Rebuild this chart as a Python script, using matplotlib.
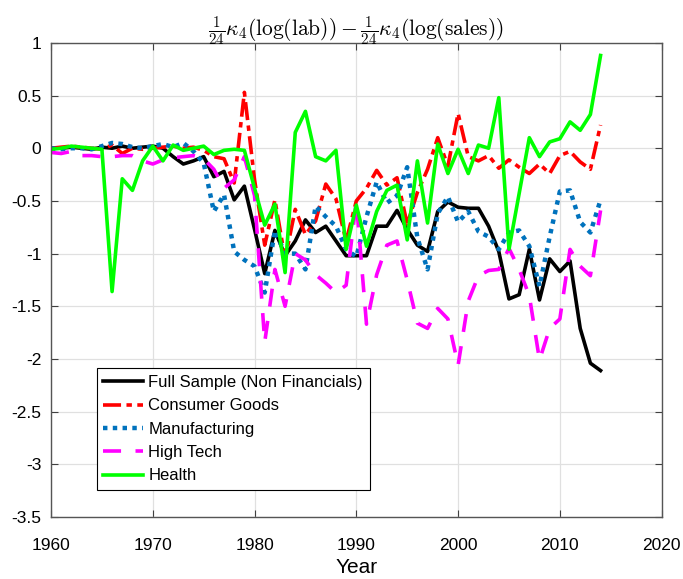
import numpy as np
import matplotlib
matplotlib.use("Agg")
import matplotlib.pyplot as plt

plt.rcParams['font.family'] = ['Liberation Sans', 'DejaVu Sans']
plt.rcParams['mathtext.fontset'] = 'cm'

years = list(range(1960, 2015))

full_sample = [0.0, 0.0, 0.01, 0.0, -0.01, 0.01, 0.0, 0.02, 0.0, 0.01,
               0.02, 0.0, -0.08, -0.15, -0.12, -0.08, -0.27, -0.22, -0.49, -0.36,
               -0.77, -1.19, -0.78, -1.02, -0.88, -0.68, -0.80, -0.74, -0.88, -1.02,
               -1.02, -1.02, -0.74, -0.74, -0.59, -0.77, -0.92, -0.98, -0.60, -0.51,
               -0.56, -0.57, -0.57, -0.74, -0.98, -1.43, -1.39, -0.96, -1.44, -1.05,
               -1.17, -1.07, -1.71, -2.04, -2.11]
consumer = [0.0, 0.01, 0.02, 0.01, 0.0, -0.01, 0.03, -0.05, 0.0, -0.01,
            0.0, 0.01, 0.02, 0.0, 0.01, -0.02, -0.08, -0.10, -0.33, 0.53,
            -0.30, -0.92, -0.49, -1.05, -0.58, -0.82, -0.69, -0.34, -0.48, -0.88,
            -0.50, -0.38, -0.21, -0.35, -0.28, -0.72, -0.42, -0.20, 0.10, -0.17,
            0.33, -0.08, -0.12, -0.07, -0.19, -0.11, -0.18, -0.24, -0.15, -0.24,
            -0.07, -0.03, -0.13, -0.20, 0.22]
manufacturing = [0.0, -0.01, 0.0, 0.0, -0.01, 0.02, 0.05, 0.04, 0.01, 0.0,
                 0.02, 0.04, 0.01, 0.05, -0.03, -0.14, -0.60, -0.44, -0.98, -1.06,
                 -1.12, -1.37, -0.78, -1.00, -1.00, -1.15, -0.55, -0.65, -0.74, -0.96,
                 -1.03, -0.65, -0.32, -0.52, -0.45, -0.18, -0.85, -1.15, -0.62, -0.46,
                 -0.70, -0.60, -0.79, -0.84, -0.96, -0.80, -0.78, -0.93, -1.31, -0.84,
                 -0.41, -0.40, -0.70, -0.80, -0.49]
high_tech = [-0.04, -0.05, -0.03, -0.07, -0.07, -0.08, -0.08, -0.07, -0.07, -0.12,
             -0.15, -0.11, -0.09, -0.08, -0.07, -0.10, -0.20, -0.38, -0.30, -0.08,
             -0.45, -1.84, -1.15, -1.50, -1.00, -1.06, -1.20, -1.28, -1.37, -1.30,
             -0.50, -1.67, -1.20, -0.92, -0.88, -1.25, -1.66, -1.71, -1.52, -1.62,
             -2.06, -1.45, -1.21, -1.16, -1.15, -0.95, -1.15, -1.40, -2.01, -1.71,
             -1.62, -0.96, -1.12, -1.21, -0.59]
health = [-0.01, 0.0, 0.02, 0.01, 0.0, -0.01, -1.36, -0.29, -0.40, -0.12,
          0.02, -0.12, 0.03, -0.02, 0.0, 0.02, -0.06, -0.02, -0.01, -0.02,
          -0.38, -0.73, -0.53, -1.18, 0.15, 0.35, -0.08, -0.12, -0.02, -0.96,
          -0.54, -0.93, -0.60, -0.40, -0.35, -0.87, -0.12, -0.71, 0.04, -0.24,
          -0.01, -0.24, 0.03, 0.0, 0.48, -0.96, -0.43, 0.10, -0.08, 0.06,
          0.09, 0.25, 0.17, 0.32, 0.88]

labels = ["Full Sample (Non Financials)", "Consumer Goods", "Manufacturing",
          "High Tech", "Health"]

fig = plt.figure(figsize=(6.83, 5.79), dpi=100)
ax = fig.add_axes([0.0747, 0.107, 0.894, 0.819])

lw = 2.6
ax.plot(years, full_sample, color='black', lw=lw, label=labels[0])
ax.plot(years, consumer, color='#FF0000', lw=lw, linestyle=(0, (5, 1.5, 1.5, 1.5)), label=labels[1])
ax.plot(years, manufacturing, color='#0072BD', lw=lw + 0.6, linestyle=(0, (1, 1.2)), label=labels[2])
ax.plot(years, high_tech, color='#FF00FF', lw=lw, linestyle=(0, (5, 4)), label=labels[3])
ax.plot(years, health, color='#00FF00', lw=lw, label=labels[4])

ax.set_xlim(1960, 2020)
ax.set_ylim(-3.5, 1)
ax.set_xticks(np.arange(1960, 2021, 10))
ax.set_yticks(np.arange(-3.5, 1.01, 0.5))
ax.set_yticklabels(['-3.5', '-3', '-2.5', '-2', '-1.5', '-1', '-0.5', '0', '0.5', '1'])
ax.grid(True, color='#e0e0e0', lw=0.9)
ax.set_axisbelow(True)
ax.tick_params(direction='in', top=True, right=True, labelsize=12.5, length=5,
               color='#404040')
ax.tick_params(axis='x', pad=15)
ax.tick_params(axis='y', pad=7)
for s in ax.spines.values():
    s.set_color('#555555')
    s.set_linewidth(1.0)

ax.set_xlabel("Year", fontsize=15, labelpad=4)
ax.set_title(r"$\frac{1}{24}\kappa_4(\log(\mathrm{lab})) - \frac{1}{24}\kappa_4(\log(\mathrm{sales}))$",
             fontsize=15.5, pad=5)

leg = ax.legend(loc='lower left', bbox_to_anchor=(0.075, 0.057), fontsize=12,
                frameon=True, fancybox=False, framealpha=1, edgecolor='black',
                handlelength=2.4, handletextpad=0.3, labelspacing=0.5,
                borderpad=0.4, borderaxespad=0)
leg.get_frame().set_linewidth(0.8)

fig.savefig("out.png", dpi=100)
